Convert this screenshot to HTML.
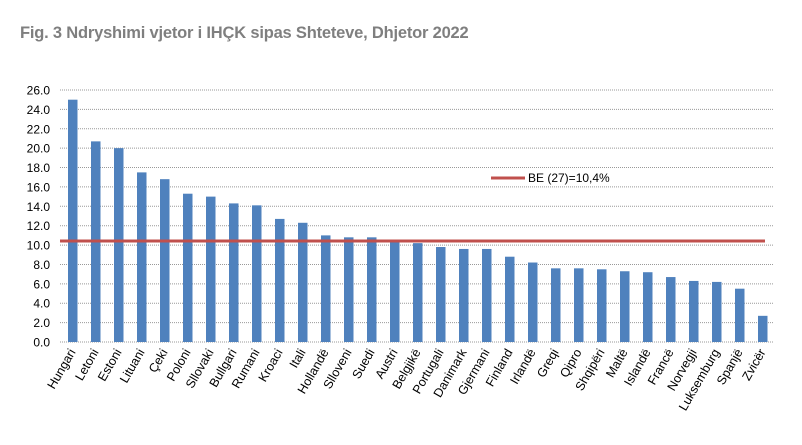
<!DOCTYPE html>
<html><head><meta charset="utf-8"><style>
body{margin:0;background:#fff;}
</style></head><body>
<svg width="802" height="440" xmlns="http://www.w3.org/2000/svg" font-family="Liberation Sans, sans-serif">
<text x="20" y="38" font-size="16.5" font-weight="bold" fill="#7f7f7f" letter-spacing="-0.2">Fig. 3 Ndryshimi vjetor i IHÇK sipas Shteteve, Dhjetor 2022</text>
<g id="grid"></g>
<g id="bars"></g>
<line x1="60" y1="241" x2="765" y2="241" stroke="#c0504d" stroke-width="3"/>
<line x1="491" y1="178" x2="525" y2="178" stroke="#c0504d" stroke-width="3"/>
<text x="528" y="182" font-size="12" fill="#000">BE (27)=10,4%</text>
<g id="labels"></g>
<script>
var ns="http://www.w3.org/2000/svg";
function el(t,a,p,txt){var e=document.createElementNS(ns,t);for(var k in a)e.setAttribute(k,a[k]);if(txt)e.textContent=txt;document.getElementById(p).appendChild(e);}
var y0=342,s=252/26;
for(var v=0;v<=26;v+=2){var y=y0-v*s;el('line',{x1:60,y1:y,x2:773,y2:y,stroke:'#999','stroke-width':1,'stroke-dasharray':'1,1'},'grid');el('text',{x:50,y:y+4.5,'font-size':12,'text-anchor':'end',fill:'#000'},'grid',v.toFixed(1));}
var n=["Hungari","Letoni","Estoni","Lituani","Çeki","Poloni","Sllovaki","Bullgari","Rumani","Kroaci","Itali","Hollandë","Slloveni","Suedi","Austri","Belgjikë","Portugali","Danimark","Gjermani","Finland","Irlandë","Greqi","Qipro","Shqipëri","Maltë","Islandë","Francë","Norvegji","Luksemburg","Spanjë","Zvicër"];
var d=[25.0,20.7,20.0,17.5,16.8,15.3,15.0,14.3,14.1,12.7,12.3,11.0,10.8,10.8,10.5,10.2,9.8,9.6,9.6,8.8,8.2,7.6,7.6,7.5,7.3,7.2,6.7,6.3,6.2,5.5,2.7];
for(var i=0;i<31;i++){var x=68+i*23,h=d[i]*s;el('rect',{x:x,y:y0-h,width:9.5,height:h,fill:'#4f81bd'},'bars');
var cx=x+8,cy=352;el('text',{x:cx,y:cy,'font-size':12.5,'text-anchor':'end',fill:'#000',transform:'rotate(-60 '+cx+' '+cy+')'},'labels',n[i]);}
</script>
</svg>
</body></html>
